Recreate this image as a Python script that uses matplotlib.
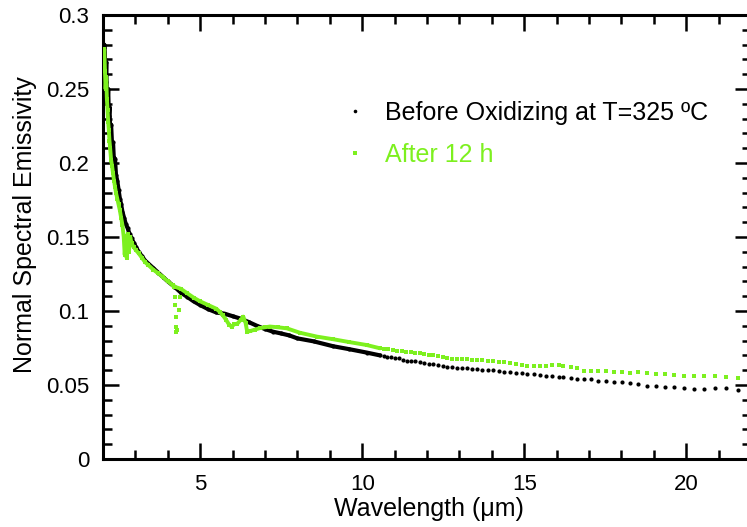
import numpy as np
import matplotlib
matplotlib.use("Agg")
import matplotlib.pyplot as plt
from matplotlib.lines import Line2D
from matplotlib.ticker import MultipleLocator, FuncFormatter

plt.rcParams['font.family'] = ['Liberation Sans', 'DejaVu Sans']

# ---- measured spectra: wavelength (um) and normal spectral emissivity ----
before_wavelength = [
    2.02, 2.04, 2.06, 2.08, 2.10, 2.12, 2.14, 2.16, 2.18, 2.20, 2.22, 2.25,
    2.28, 2.31, 2.34, 2.37, 2.40, 2.44, 2.48, 2.52, 2.56, 2.60, 2.65, 2.70,
    2.76, 2.82, 2.88, 2.95, 3.02, 3.10, 3.20, 3.30, 3.40, 3.55, 3.70, 3.85,
    4.00, 4.20, 4.40, 4.60, 4.80, 5.00, 5.25, 5.50, 5.75, 6.00, 6.25, 6.50,
    6.75, 7.00, 7.25, 7.50, 7.75, 8.00, 8.50, 9.10, 9.60, 10.14, 10.55,
    10.66, 10.78, 10.90, 11.02, 11.14, 11.26, 11.38, 11.51, 11.64, 11.78,
    11.92, 12.06, 12.20, 12.34, 12.48, 12.62, 12.77, 12.92, 13.07, 13.22,
    13.38, 13.54, 13.70, 13.87, 14.04, 14.21, 14.38, 14.56, 14.74, 14.92,
    15.10, 15.29, 15.48, 15.67, 15.87, 16.07, 16.21, 16.44, 16.64, 16.85,
    17.06, 17.29, 17.52, 17.77, 18.01, 18.27, 18.52, 18.80, 19.06, 19.35,
    19.63, 19.93, 20.25, 20.56, 20.89, 21.23, 21.61,
]
before_emissivity = [
    0.262, 0.280, 0.270, 0.255, 0.268, 0.245, 0.240, 0.250, 0.232, 0.238,
    0.222, 0.226, 0.212, 0.214, 0.200, 0.203, 0.192, 0.188, 0.182, 0.176,
    0.172, 0.167, 0.163, 0.159, 0.156, 0.152, 0.149, 0.146, 0.143, 0.140,
    0.137, 0.134, 0.132, 0.129, 0.126, 0.123, 0.120, 0.1165, 0.1125, 0.1095,
    0.1065, 0.1040, 0.1012, 0.0990, 0.0982, 0.0965, 0.0948, 0.0925, 0.0900,
    0.0878, 0.0860, 0.0848, 0.0835, 0.0815, 0.0795, 0.0762, 0.0742, 0.0719,
    0.0700,
    0.0694, 0.0690, 0.0687, 0.0684, 0.0680, 0.0670, 0.0664, 0.0661, 0.0659,
    0.0657, 0.0650, 0.0645, 0.0640, 0.0633, 0.0626, 0.0622, 0.0619, 0.0617,
    0.0615, 0.0613, 0.0610, 0.0606, 0.0603, 0.0600, 0.0598, 0.0595, 0.0591,
    0.0586, 0.0582, 0.0578, 0.0575, 0.0571, 0.0568, 0.0563, 0.0558, 0.0554,
    0.0552, 0.0545, 0.0543, 0.0541, 0.0538, 0.0529, 0.0527, 0.0523, 0.0518,
    0.0516, 0.0505, 0.0495, 0.0493, 0.0489, 0.0484, 0.0482, 0.0473, 0.0473,
    0.0482, 0.0480, 0.0466,
]

after_wavelength = [
    2.02, 2.04, 2.06, 2.08, 2.10, 2.12, 2.14, 2.16, 2.18, 2.20, 2.22, 2.25,
    2.28, 2.31, 2.34, 2.37, 2.40, 2.44, 2.48, 2.52, 2.56, 2.60, 2.64, 2.67,
    2.70, 2.73, 2.76, 2.80, 2.84, 2.88, 2.95, 3.02, 3.10, 3.20, 3.30, 3.40,
    3.55, 3.70, 3.85, 4.00, 4.15, 4.20,
    4.22, 4.23, 4.24, 4.25, 4.26, 4.28, 4.35, 4.37,
    4.40, 4.60, 4.80, 5.00, 5.25, 5.50, 5.60, 5.70, 5.80, 5.90, 5.97, 6.05,
    6.15, 6.25, 6.33, 6.40, 6.45, 6.55, 6.70, 6.85, 7.00, 7.15, 7.40, 7.67,
    8.08, 8.60, 9.11, 9.60, 10.14, 10.55,
    10.66, 10.80, 10.94, 11.08, 11.22, 11.36, 11.50, 11.64, 11.78, 11.92,
    12.06, 12.20, 12.34, 12.48, 12.62, 12.77, 12.92, 13.07, 13.22, 13.38,
    13.54, 13.70, 13.87, 14.04, 14.21, 14.38, 14.56, 14.74, 14.92, 15.10,
    15.29, 15.48, 15.67, 15.87, 16.07, 16.21, 16.44, 16.64, 16.85, 17.06,
    17.29, 17.52, 17.77, 18.01, 18.27, 18.52, 18.80, 19.06, 19.35, 19.63,
    19.93, 20.25, 20.56, 20.89, 21.23, 21.59,
]
after_emissivity = [
    0.272, 0.277, 0.262, 0.250, 0.258, 0.243, 0.236, 0.228, 0.222, 0.215,
    0.210, 0.202, 0.198, 0.193, 0.188, 0.184, 0.180, 0.176, 0.172, 0.168,
    0.163, 0.158, 0.150, 0.138, 0.148, 0.136, 0.152, 0.140, 0.150, 0.146,
    0.143, 0.141, 0.139, 0.136, 0.133, 0.131, 0.128, 0.1255, 0.1230, 0.1200,
    0.1175, 0.1165,
    0.1097, 0.1040, 0.0962, 0.0894, 0.0855, 0.0872, 0.1007, 0.1097,
    0.1150, 0.1120, 0.1090, 0.1065, 0.1040, 0.1015, 0.0995, 0.0970, 0.0940,
    0.0905, 0.0895, 0.0910, 0.0915, 0.0940, 0.0962, 0.0920, 0.0860, 0.0865,
    0.0875, 0.0885, 0.0890, 0.0895, 0.0890, 0.0883, 0.0853, 0.0827, 0.0809,
    0.0790, 0.0770, 0.0748,
    0.0745, 0.0741, 0.0737, 0.0733, 0.0729, 0.0724, 0.0720, 0.0717, 0.0714,
    0.0710, 0.0706, 0.0703, 0.0699, 0.0690, 0.0680, 0.0679, 0.0678, 0.0677,
    0.0675, 0.0672, 0.0669, 0.0666, 0.0663, 0.0660, 0.0657, 0.0654, 0.0651,
    0.0645, 0.0635, 0.0631, 0.0631, 0.0630, 0.0631, 0.0632, 0.0633, 0.0631,
    0.0619, 0.0613, 0.0597, 0.0595, 0.0595, 0.0595, 0.0590, 0.0590, 0.0583,
    0.0586, 0.0579, 0.0574, 0.0574, 0.0568, 0.0563, 0.0561, 0.0561, 0.0561,
    0.0556, 0.0545,
]

before_label = "Before Oxidizing at T=325 \u00baC"
after_label = "After 12 h"
x_ticks = [5, 10, 15, 20]
y_ticks = [0, 0.05, 0.1, 0.15, 0.2, 0.25, 0.3]

BLACK = "#000000"
GREEN = "#7DF01F"

bw = np.array(before_wavelength)
be = np.array(before_emissivity)
aw = np.array(after_wavelength)
ae = np.array(after_emissivity)

fig = plt.figure(figsize=(7.47, 5.27), dpi=100)
ax = fig.add_axes([103 / 747, 68 / 527, 648 / 747, 444 / 527])

# dense short-wave part of each scan merges into a solid trace
dense_b = bw <= 10.6
ax.plot(bw[dense_b], be[dense_b], color=BLACK, lw=3.0, solid_capstyle='round', zorder=2)
ax.plot(bw, be, ls='none', marker='o', ms=3.0, mew=0, color=BLACK, zorder=2)

co2_band = (aw > 4.21) & (aw < 4.39)
dense_a = (aw <= 10.6) & ~co2_band
ax.plot(aw[dense_a], ae[dense_a], color=GREEN, lw=2.8, solid_capstyle='round', zorder=3)
ax.plot(aw, ae, ls='none', marker='s', ms=2.9, mew=0, color=GREEN, zorder=3)

ax.set_xlim(2, 22)
ax.set_ylim(0, 0.3)
ax.xaxis.set_major_locator(plt.FixedLocator(x_ticks))
ax.xaxis.set_minor_locator(MultipleLocator(1))
ax.yaxis.set_major_locator(plt.FixedLocator(y_ticks))
ax.yaxis.set_minor_locator(MultipleLocator(0.01))
ax.yaxis.set_major_formatter(FuncFormatter(lambda v, p: f"{v:g}"))

for s in ax.spines.values():
    s.set_linewidth(2.2)
ax.tick_params(which='both', direction='in', top=True, right=True, colors='black')
ax.tick_params(which='major', length=11.5, width=1.8, labelsize=16, pad=10)
ax.tick_params(which='minor', length=6.5, width=1.8)
ax.tick_params(axis='x', which='major', pad=11)

ax.set_xlabel("Wavelength (\u03bcm)", fontsize=18)
ax.set_ylabel("Normal Spectral Emissivity", fontsize=18)
ax.xaxis.set_label_coords(0.503, -0.085)
ax.yaxis.set_label_coords(-0.102, 0.527)

handles = [
    Line2D([], [], ls='none', marker='o', ms=2.6, mew=0, color=BLACK),
    Line2D([], [], ls='none', marker='s', ms=2.6, mew=0, color=GREEN),
]
leg = ax.legend(handles, [before_label, after_label], loc='upper left',
                bbox_to_anchor=(0.3735, 0.8074), frameon=False, fontsize=18,
                borderpad=0, borderaxespad=0, handlelength=0.8,
                handletextpad=0.8, labelspacing=0.74)
for txt, c in zip(leg.get_texts(), [BLACK, GREEN]):
    txt.set_color(c)

fig.savefig("out.png", dpi=100)
